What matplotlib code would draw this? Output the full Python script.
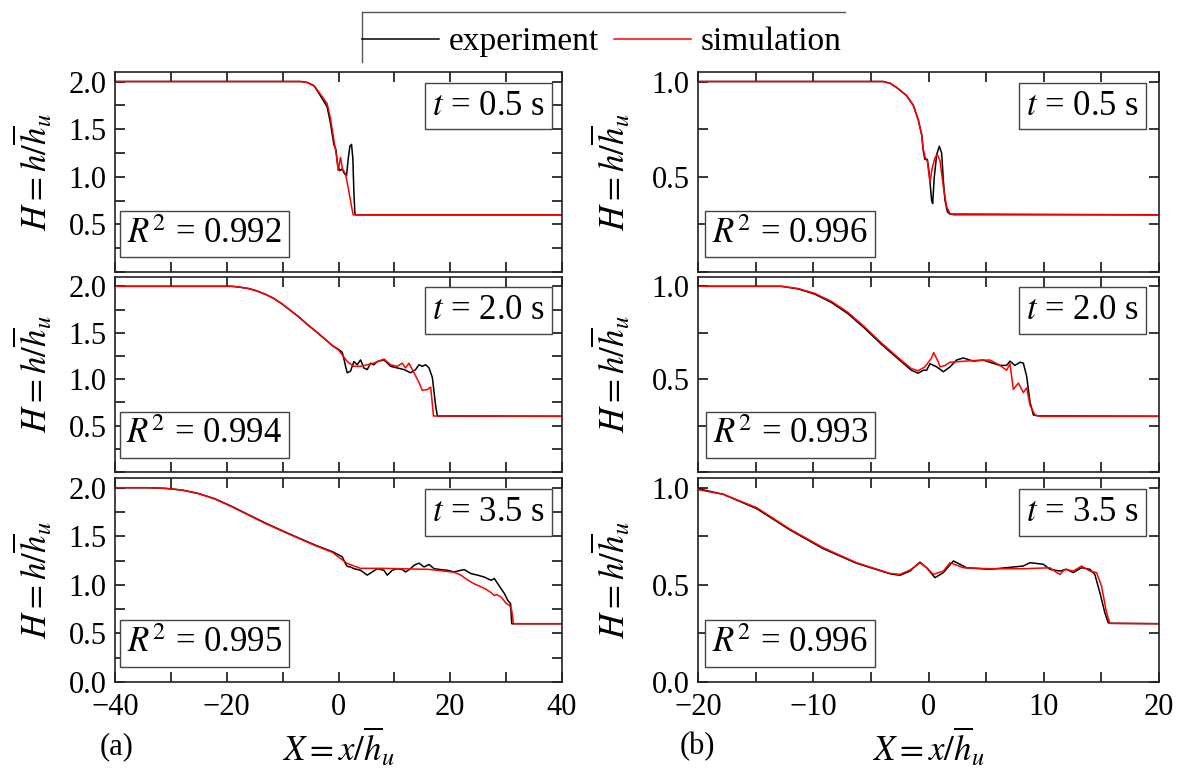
import matplotlib
matplotlib.use("Agg")
import matplotlib.pyplot as plt
from matplotlib.lines import Line2D
from matplotlib.ticker import MultipleLocator, FormatStrFormatter

plt.rcParams['font.family'] = ['Liberation Serif', 'DejaVu Serif']
plt.rcParams['mathtext.fontset'] = 'stix'

# ---- (a) left column, X in [-40, 40] ----
# t = 0.5 s
xa1_exp = [-40, -6.8, -5.6, -4.4, -3.83, -2.04, -1.44, -0.84, -0.48, -0.12, 0.24, 0.66, 1.08, 1.44, 1.74, 2.03,
           2.33, 2.57, 2.75, 2.93, 3.05, 40]
ha1_exp = [2.0, 2.0, 1.99, 1.955, 1.907, 1.735, 1.564, 1.34, 1.289, 1.117, 1.065, 1.082, 1.03, 1.013, 1.19, 1.32,
           1.34, 1.19, 0.845, 0.62, 0.60, 0.60]
xa1_sim = [-40, -6.8, -5.6, -4.4, -3.83, -2.04, -1.44, -0.84, -0.36, -0.06, 0.36, 0.72, 1.26, 1.86, 2.27, 2.63, 40]
ha1_sim = [2.0, 2.0, 1.99, 1.958, 1.914, 1.77, 1.615, 1.39, 1.22, 1.065, 1.203, 1.082, 1.03, 0.845, 0.707, 0.60, 0.60]

# t = 2.0 s
xa2_exp = [-40, -19.1, -17.6, -16.1, -14.6, -13.1, -11.6, -10.1, -8.6, -7.1, -5.6, -4.1, -2.6, -1.1, 0.0, 0.66,
           1.0, 1.25, 1.56, 2.15, 2.75, 3.35, 3.95, 4.54, 5.14, 5.74, 6.34, 6.94, 8.13, 9.33, 10.5, 11.7, 12.9,
           13.8, 14.4, 15.0, 15.6, 16.2, 16.8, 17.4, 17.7, 40]
ha2_exp = [2.0, 2.0, 1.99, 1.976, 1.95, 1.914, 1.87, 1.81, 1.74, 1.67, 1.59, 1.517, 1.44, 1.362, 1.32, 1.29,
           1.21, 1.14, 1.069, 1.086, 1.19, 1.155, 1.207, 1.121, 1.103, 1.172, 1.155, 1.19, 1.207, 1.138, 1.121,
           1.103, 1.069, 1.103, 1.155, 1.138, 1.155, 1.121, 1.017, 0.707, 0.603, 0.60]
xa2_sim = [-40, -19.1, -17.6, -16.1, -14.6, -13.1, -11.6, -10.1, -8.6, -7.1, -5.6, -4.1, -2.6, -1.1, 0.06,
           1.56, 2.75, 3.95, 5.14, 6.34, 8.13, 9.33, 10.5, 11.4, 12.0, 12.6, 13.5, 14.4, 15.0, 15.9, 16.5, 17.0, 40]
ha2_sim = [2.0, 2.0, 1.99, 1.976, 1.95, 1.914, 1.87, 1.81, 1.74, 1.67, 1.59, 1.517, 1.44, 1.362, 1.31,
           1.19, 1.138, 1.138, 1.155, 1.172, 1.217, 1.155, 1.138, 1.172, 1.121, 1.172, 1.069, 0.966, 0.88, 0.887,
           0.914, 0.603, 0.60]

# t = 3.5 s
xa3_exp = [-40, -34.0, -31.0, -28.0, -25.05, -22.1, -19.1, -16.1, -13.1, -10.1, -7.1, -4.1, -1.1, 0.66, 1.26,
           1.55, 2.15, 2.75, 3.95, 5.14, 6.04, 6.94, 8.13, 8.73, 9.63, 10.53, 11.43, 12.0, 12.9, 13.5, 14.4,
           15.3, 16.2, 17.1, 18.3, 19.5, 20.7, 21.9, 22.5, 23.7, 24.9, 26.1, 27.3, 27.9, 28.5, 29.1, 29.7,
           30.3, 30.8, 31.0, 40]
ha3_exp = [2.0, 2.0, 1.993, 1.976, 1.94, 1.886, 1.808, 1.722, 1.637, 1.558, 1.482, 1.408, 1.342, 1.29, 1.218,
           1.19, 1.184, 1.167, 1.15, 1.10, 1.133, 1.167, 1.15, 1.10, 1.15, 1.167, 1.157, 1.133, 1.167, 1.201,
           1.224, 1.184, 1.21, 1.167, 1.157, 1.15, 1.133, 1.15, 1.157, 1.116, 1.10, 1.08, 1.047, 1.065, 1.012,
           0.96, 0.91, 0.84, 0.806, 0.60, 0.60]
xa3_sim = [-40, -34.0, -31.0, -28.0, -25.05, -22.1, -19.1, -16.1, -13.1, -10.1, -7.1, -4.1, -1.1, -0.54, 1.56,
           3.95, 8.0, 12.0, 16.0, 20.7, 21.9, 23.1, 24.3, 26.1, 27.3, 27.9, 28.3, 29.1, 30.0, 30.6, 31.0, 31.3, 40]
ha3_sim = [2.0, 2.0, 1.993, 1.976, 1.94, 1.883, 1.804, 1.718, 1.633, 1.554, 1.478, 1.403, 1.335, 1.31, 1.22,
           1.17, 1.17, 1.165, 1.16, 1.13, 1.10, 1.05, 1.01, 0.965, 0.92, 0.89, 0.90, 0.875, 0.81, 0.79, 0.74,
           0.60, 0.60]

# ---- (b) right column, X in [-20, 20] ----
# t = 0.5 s
xb1_exp = [-20, -3.92, -3.3, -2.77, -1.90, -1.32, -0.88, -0.59, -0.45, -0.31, -0.10, 0.07, 0.27, 0.36, 0.50,
           0.71, 0.94, 1.14, 1.29, 1.43, 1.64, 1.87, 20]
hb1_exp = [1.0, 1.0, 0.99, 0.969, 0.926, 0.875, 0.797, 0.72, 0.634, 0.591, 0.591, 0.514, 0.376, 0.359, 0.497,
           0.617, 0.66, 0.625, 0.479, 0.376, 0.316, 0.304, 0.30]
xb1_sim = [-20, -3.92, -3.3, -2.77, -1.90, -1.32, -0.88, -0.59, -0.45, -0.28, -0.10, 0.13, 0.33, 0.56, 0.77,
           1.0, 1.29, 1.58, 1.87, 2.16, 20]
hb1_sim = [1.0, 1.0, 0.99, 0.969, 0.926, 0.875, 0.797, 0.72, 0.643, 0.60, 0.583, 0.471, 0.548, 0.60, 0.617,
           0.583, 0.445, 0.342, 0.307, 0.30, 0.30]

# t = 2.0 s
xb2_exp = [-20, -12.77, -11.32, -9.88, -8.43, -6.98, -5.54, -4.09, -2.65, -1.49, -0.91, -0.45, -0.16, 0.13,
           0.71, 1.29, 1.87, 2.44, 3.02, 3.89, 4.76, 5.33, 6.2, 6.78, 7.07, 7.5, 7.94, 8.23, 8.52, 8.81,
           9.1, 9.53, 20]
hb2_exp = [1.0, 1.0, 0.986, 0.958, 0.913, 0.852, 0.774, 0.688, 0.61, 0.548, 0.532, 0.548, 0.548, 0.583,
           0.566, 0.54, 0.566, 0.603, 0.614, 0.597, 0.603, 0.591, 0.574, 0.574, 0.597, 0.574, 0.591, 0.586,
           0.514, 0.376, 0.307, 0.302, 0.30]
xb2_sim = [-20, -12.77, -11.32, -9.88, -8.43, -6.98, -5.54, -4.09, -2.65, -1.49, -0.91, -0.33, 0.25, 0.45,
           0.86, 1.0, 1.43, 1.87, 3.89, 5.33, 6.2, 6.78, 7.07, 7.36, 7.80, 8.23, 8.52, 8.81, 9.24, 9.67, 20]
hb2_sim = [1.0, 1.0, 0.988, 0.962, 0.919, 0.859, 0.781, 0.695, 0.617, 0.557, 0.545, 0.565, 0.612, 0.643,
           0.591, 0.566, 0.574, 0.591, 0.60, 0.603, 0.574, 0.548, 0.583, 0.445, 0.479, 0.428, 0.453, 0.359,
           0.307, 0.30, 0.30]

# t = 3.5 s
xb3_exp = [-20, -17.8, -14.9, -12.0, -9.13, -6.24, -3.34, -2.48, -1.61, -0.74, -0.16, 0.56, 1.29, 2.16,
           3.31, 5.33, 8.23, 8.81, 9.96, 10.54, 11.4, 11.98, 12.56, 13.28, 14.0, 14.43, 14.87, 15.3, 15.59,
           15.79, 20]
hb3_exp = [0.995, 0.966, 0.892, 0.782, 0.686, 0.611, 0.557, 0.549, 0.571, 0.617, 0.588, 0.537, 0.563, 0.623,
           0.588, 0.580, 0.597, 0.614, 0.606, 0.580, 0.571, 0.580, 0.563, 0.588, 0.58, 0.554, 0.46, 0.357, 0.305,
           0.302, 0.30]
xb3_sim = [-20, -17.8, -14.9, -12.0, -9.13, -6.24, -3.34, -2.48, -1.61, -0.74, -0.16, 0.42, 1.29, 1.87,
           3.02, 5.33, 8.23, 10.54, 11.12, 11.4, 11.83, 12.56, 13.28, 14.0, 14.58, 15.01, 15.45, 15.73, 20]
hb3_sim = [0.99, 0.966, 0.897, 0.786, 0.691, 0.614, 0.559, 0.554, 0.576, 0.614, 0.588, 0.554, 0.571, 0.614,
           0.588, 0.583, 0.583, 0.588, 0.563, 0.554, 0.58, 0.571, 0.597, 0.571, 0.563, 0.494, 0.357, 0.302, 0.30]

times = ["0.5", "2.0", "3.5"]
r2_a = ["0.992", "0.994", "0.995"]
r2_b = ["0.996", "0.993", "0.996"]

left_data = [(xa1_exp, ha1_exp, xa1_sim, ha1_sim),
             (xa2_exp, ha2_exp, xa2_sim, ha2_sim),
             (xa3_exp, ha3_exp, xa3_sim, ha3_sim)]
right_data = [(xb1_exp, hb1_exp, xb1_sim, hb1_sim),
              (xb2_exp, hb2_exp, xb2_sim, hb2_sim),
              (xb3_exp, hb3_exp, xb3_sim, hb3_sim)]

W, H = 1183, 771
fig = plt.figure(figsize=(W / 100, H / 100), dpi=100)

# row extents in pixels (top, bottom)
rows = [(72, 272), (277, 472), (478, 682)]
cols = [(115, 562), (698, 1159)]
ylab_x = [-0.134, -0.141]

ylab = r"$H = h/\overline{h}_u$"
xlab = r"$X = x/\overline{h}_u$"

for c, (data, r2s) in enumerate([(left_data, r2_a), (right_data, r2_b)]):
    x0, x1 = cols[c]
    for r, (xe, he, xs, hs) in enumerate(data):
        y0, y1 = rows[r]
        ax = fig.add_axes([x0 / W, 1 - y1 / H, (x1 - x0) / W, (y1 - y0) / H])
        ax.plot(xe, he, color='black', lw=1.1)
        ax.plot(xs, hs, color='red', lw=1.1)
        if c == 0:
            ax.set_xlim(-40, 40)
            ax.set_ylim(0, 2.1)
            ax.xaxis.set_major_locator(MultipleLocator(20))
            ax.xaxis.set_minor_locator(MultipleLocator(10))
            if r < 2:
                ax.set_yticks([0.5, 1.0, 1.5, 2.0])
            else:
                ax.set_yticks([0.0, 0.5, 1.0, 1.5, 2.0])
        else:
            ax.set_xlim(-20, 20)
            ax.set_ylim(0, 1.05)
            ax.xaxis.set_major_locator(MultipleLocator(10))
            ax.xaxis.set_minor_locator(MultipleLocator(5))
            if r < 2:
                ax.set_yticks([0.5, 1.0])
            else:
                ax.set_yticks([0.0, 0.5, 1.0])
        ax.yaxis.set_minor_locator(MultipleLocator(0.25))
        ax.yaxis.set_major_formatter(FormatStrFormatter('%.1f'))
        ax.tick_params(which='both', direction='in', top=True, right=True,
                       length=7, width=1.1, labelsize=22, pad=6)
        ax.tick_params(axis='x', labelbottom=(r == 2), pad=8)
        for sp in ax.spines.values():
            sp.set_linewidth(1.2)
            sp.set_color('#222222')

        ax.set_ylabel(ylab, fontsize=25)
        ax.yaxis.set_label_coords(ylab_x[c], 0.5)
        if r == 2:
            ax.set_xlabel(xlab, fontsize=25)
            ax.xaxis.label.set_va('center')
            ax.xaxis.set_label_coords(0.5, -0.32)

        # time box (top right) and R^2 box (bottom left)
        ax.text(0.835, 0.83, r"$t$ = " + times[r] + " s", transform=ax.transAxes,
                ha='center', va='center', fontsize=25,
                bbox=dict(boxstyle='square,pad=0.2', fc='white', ec='#444444', lw=1))
        ax.text(0.2, 0.19, r"$R^2$ = " + r2s[r], transform=ax.transAxes,
                ha='center', va='center', fontsize=25,
                bbox=dict(boxstyle='square,pad=0.2', fc='white', ec='#444444', lw=1))

fig.text(100 / W, 1 - 747 / H, "(a)", fontsize=22, ha='left', va='center')
fig.text(680 / W, 1 - 747 / H, "(b)", fontsize=22, ha='left', va='center')

handles = [Line2D([], [], color='black', lw=1.1), Line2D([], [], color='red', lw=1.1)]
fig.legend(handles, ["experiment", "simulation"], loc='center', bbox_to_anchor=(0.509, 1 - 42 / H),
           ncol=2, frameon=False, fontsize=24, handlelength=2.3, handletextpad=0.3,
           columnspacing=0.45)
# partial legend frame (top and left edges)
fig.add_artist(Line2D([362 / W, 845 / W], [1 - 12 / H, 1 - 12 / H], color='#555555', lw=1))
fig.add_artist(Line2D([362 / W, 362 / W], [1 - 12 / H, 1 - 62 / H], color='#555555', lw=1))

fig.savefig("out.png", dpi=100)
